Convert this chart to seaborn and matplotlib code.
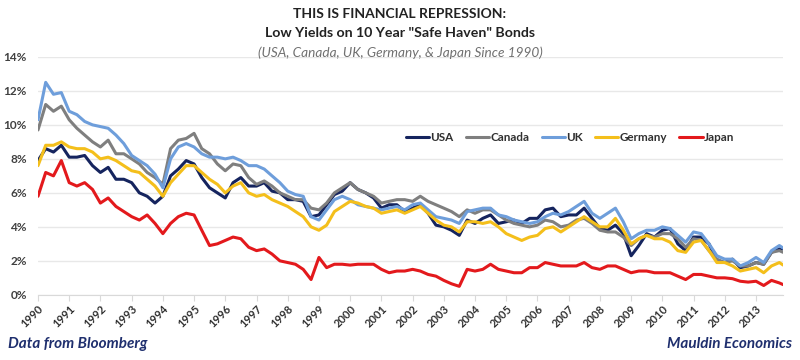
import pandas as pd
import seaborn as sns
import matplotlib.pyplot as plt

# quarterly readings (start of each quarter) + last point mid-Nov 2013
dates = list(pd.date_range("1990-01-01", periods=96, freq="QS")) + [pd.Timestamp("2013-11-15")]

usa = [7.9, 8.6, 8.4, 8.8, 8.1, 8.1, 8.2, 7.6, 7.2, 7.5, 6.8, 6.8,
       6.6, 6.0, 5.8, 5.4, 5.8, 7.0, 7.4, 7.9, 7.7, 6.9, 6.3, 6.0,
       5.7, 6.6, 6.9, 6.4, 6.4, 6.6, 6.1, 6.0, 5.6, 5.6, 5.5, 4.6,
       4.7, 5.3, 5.9, 6.1, 6.6, 6.2, 6.0, 5.7, 5.1, 5.3, 5.3, 4.9,
       5.1, 5.3, 4.8, 4.1, 4.0, 3.8, 3.5, 4.4, 4.2, 4.5, 4.7, 4.2,
       4.3, 4.4, 4.2, 4.5, 4.5, 5.0, 5.1, 4.6, 4.7, 4.7, 5.1, 4.5,
       3.9, 3.8, 4.1, 3.6, 2.3, 2.9, 3.6, 3.4, 3.8, 3.9, 3.0, 2.6,
       3.4, 3.4, 3.0, 2.0, 1.9, 2.1, 1.6, 1.7, 1.9, 1.8, 2.5, 2.7, 2.7]

canada = [9.7, 11.2, 10.8, 11.1, 10.3, 9.8, 9.4, 9.0, 8.7, 9.1, 8.3, 8.3,
          8.0, 7.7, 7.2, 6.9, 6.5, 8.6, 9.1, 9.2, 9.5, 8.6, 8.3, 7.7,
          7.3, 7.7, 7.6, 6.9, 6.5, 6.7, 6.4, 6.0, 5.8, 5.6, 5.6, 5.1,
          5.0, 5.4, 6.0, 6.3, 6.6, 6.2, 6.0, 5.8, 5.4, 5.5, 5.6, 5.6,
          5.5, 5.8, 5.5, 5.3, 5.1, 4.9, 4.6, 5.0, 4.8, 5.0, 5.0, 4.7,
          4.4, 4.2, 4.1, 4.0, 4.1, 4.4, 4.3, 4.0, 4.1, 4.4, 4.5, 4.2,
          3.8, 3.7, 3.7, 3.4, 2.9, 3.3, 3.5, 3.4, 3.6, 3.6, 3.3, 2.8,
          3.3, 3.2, 2.6, 2.1, 1.9, 2.0, 1.7, 1.7, 1.9, 1.8, 2.5, 2.6, 2.5]

uk = [10.3, 12.5, 11.8, 11.9, 10.8, 10.6, 10.2, 10.0, 9.9, 9.8, 9.4, 8.9,
      8.2, 7.9, 7.6, 7.1, 6.3, 8.0, 8.7, 8.9, 8.7, 8.3, 8.1, 8.1,
      8.0, 8.1, 7.9, 7.6, 7.6, 7.4, 7.0, 6.6, 6.1, 5.9, 5.8, 4.6,
      4.4, 5.0, 5.6, 5.8, 5.6, 5.3, 5.2, 5.1, 5.0, 5.1, 5.2, 5.0,
      5.3, 5.4, 5.0, 4.6, 4.5, 4.4, 4.2, 4.9, 5.0, 5.1, 5.1, 4.7,
      4.6, 4.4, 4.3, 4.2, 4.3, 4.6, 4.8, 4.7, 4.9, 5.2, 5.5, 4.8,
      4.5, 4.8, 5.1, 4.3, 3.3, 3.6, 3.8, 3.8, 4.0, 3.9, 3.5, 3.1,
      3.7, 3.6, 3.0, 2.3, 2.1, 2.1, 1.7, 1.9, 2.2, 1.9, 2.6, 2.9, 2.75]

germany = [7.6, 8.8, 8.8, 9.0, 8.7, 8.6, 8.6, 8.4, 8.0, 8.1, 7.9, 7.6,
           7.3, 7.2, 6.8, 6.4, 5.8, 6.6, 7.1, 7.6, 7.6, 7.2, 6.8, 6.5,
           6.0, 6.4, 6.6, 6.0, 5.8, 5.9, 5.6, 5.4, 5.2, 4.9, 4.6, 4.0,
           3.8, 4.1, 4.9, 5.2, 5.5, 5.4, 5.2, 5.1, 4.8, 4.9, 5.0, 4.8,
           5.0, 5.2, 4.8, 4.4, 4.1, 4.0, 3.7, 4.3, 4.3, 4.2, 4.3, 4.0,
           3.6, 3.4, 3.2, 3.4, 3.5, 3.9, 4.0, 3.7, 4.0, 4.3, 4.6, 4.3,
           4.0, 4.0, 4.5, 3.8, 3.0, 3.3, 3.5, 3.3, 3.3, 3.1, 2.6, 2.5,
           3.1, 3.2, 2.6, 1.9, 1.9, 1.7, 1.4, 1.5, 1.6, 1.3, 1.7, 1.9, 1.75]

japan = [5.8, 7.2, 7.0, 7.9, 6.6, 6.4, 6.6, 6.2, 5.4, 5.7, 5.2, 4.9,
         4.6, 4.4, 4.7, 4.2, 3.6, 4.2, 4.6, 4.8, 4.7, 3.8, 2.9, 3.0,
         3.2, 3.4, 3.3, 2.8, 2.6, 2.7, 2.4, 2.0, 1.9, 1.8, 1.5, 0.9,
         2.2, 1.6, 1.8, 1.8, 1.75, 1.8, 1.8, 1.8, 1.5, 1.3, 1.4, 1.4,
         1.5, 1.4, 1.2, 1.1, 0.85, 0.65, 0.5, 1.5, 1.4, 1.5, 1.8, 1.5,
         1.4, 1.3, 1.3, 1.6, 1.6, 1.9, 1.8, 1.7, 1.7, 1.7, 1.9, 1.6,
         1.5, 1.7, 1.7, 1.5, 1.3, 1.4, 1.4, 1.3, 1.3, 1.3, 1.1, 0.9,
         1.2, 1.2, 1.1, 1.0, 1.0, 0.95, 0.8, 0.75, 0.8, 0.55, 0.85, 0.7, 0.6]

countries = ["USA", "Canada", "UK", "Germany", "Japan"]
colors = ["#15245e", "#7f7f7f", "#6e9edb", "#f4bf1b", "#e3191c"]
y_ticks = [0, 2, 4, 6, 8, 10, 12, 14]
y_labels = ["0%", "2%", "4%", "6%", "8%", "10%", "12%", "14%"]
years = list(range(1990, 2014))

# long format for seaborn
series = [usa, canada, uk, germany, japan]
frames = [pd.DataFrame({"date": dates, "yield": s, "country": c}) for c, s in zip(countries, series)]
df = pd.concat(frames, ignore_index=True)

sns.set_style("white")
plt.rcParams["font.family"] = ["Lato", "DejaVu Sans"]

fig = plt.figure(figsize=(8, 3.6), dpi=100)
ax = fig.add_axes([0.0475, 0.181, 0.9315, 0.661])

sns.lineplot(data=df, x="date", y="yield", hue="country", hue_order=countries,
             palette=dict(zip(countries, colors)), linewidth=2.2, ax=ax)

ax.set_ylim(0, 14)
ax.set_xlim(pd.Timestamp("1990-01-01"), pd.Timestamp("2013-11-15"))
ax.set_yticks(y_ticks)
ax.set_yticklabels(y_labels, fontweight="bold", color="#404040", fontsize=8.5)
ax.set_xticks([pd.Timestamp(f"{y}-01-01") for y in years])
ax.set_xticklabels([str(y) for y in years], rotation=45, ha="right",
                   rotation_mode="anchor", fontweight="bold", color="#303030", fontsize=8)
ax.grid(axis="y", color="#e8e8e8", linewidth=1)
ax.set_axisbelow(True)
ax.set_xlabel("")
ax.set_ylabel("")
for s in ["left", "right", "top"]:
    ax.spines[s].set_visible(False)
ax.spines["bottom"].set_color("#d9d9d9")
ax.tick_params(axis="x", which="major", bottom=True, length=4, color="#d9d9d9", pad=2)
ax.tick_params(axis="y", length=0, pad=8)

leg = ax.legend(loc="center", bbox_to_anchor=(0.714, 0.66), ncol=5, frameon=False,
                handlelength=2.0, handletextpad=0.1, columnspacing=1.05,
                prop={"weight": "bold", "size": 8.4})
for t in leg.get_texts():
    t.set_color("#303030")

fig.text(0.5, 0.978, "THIS IS FINANCIAL REPRESSION:", ha="center", va="top",
         fontweight="bold", fontsize=10, color="#222222")
fig.text(0.5, 0.925, 'Low Yields on 10 Year "Safe Haven" Bonds', ha="center", va="top",
         fontweight="bold", fontsize=10.2, color="#222222")
fig.text(0.5, 0.872, "(USA, Canada, UK, Germany, & Japan Since 1990)", ha="center", va="top",
         style="italic", fontsize=9.8, color="#707070")
fig.text(0.01, 0.025, "Data from Bloomberg", ha="left", va="bottom",
         fontweight="bold", style="italic", fontsize=11, color="#1f2f6e")
fig.text(0.99, 0.025, "Mauldin Economics", ha="right", va="bottom",
         fontweight="bold", style="italic", fontsize=11, color="#1f2f6e")

plt.savefig("out.png", dpi=100)
